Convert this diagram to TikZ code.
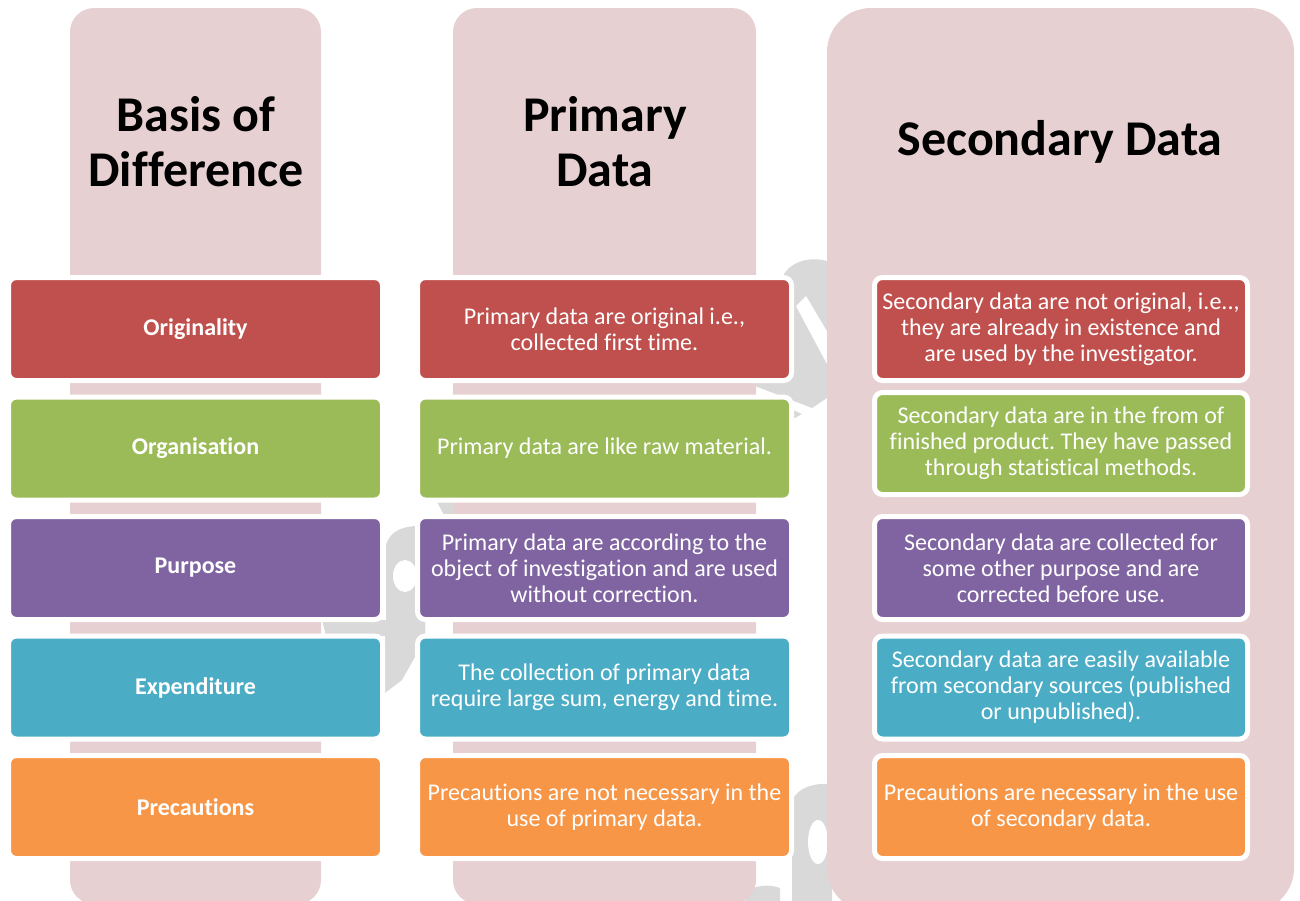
\documentclass[tikz,border=0pt]{standalone}
\usepackage{fontspec}
\setmainfont{Carlito}[Ligatures={NoCommon}]
\frenchspacing
\definecolor{bgpink}{HTML}{E7D0D1}
\definecolor{cred}{HTML}{C0504D}
\definecolor{cgreen}{HTML}{9BBB59}
\definecolor{cpurple}{HTML}{8064A2}
\definecolor{cteal}{HTML}{4BACC6}
\definecolor{corange}{HTML}{F79646}
\definecolor{wmgray}{HTML}{D9D9D9}
\tikzset{
  wm/.style={fill=wmgray, draw=none},
  wmhole/.style={fill=white, draw=none},
  cell/.style={draw=white, line width=5pt, rounded corners=8pt, inner sep=0pt,
    minimum width=374pt, minimum height=103pt, text=white, align=center,
    font=\fontsize{24}{26}\selectfont},
  lab/.style={cell, font=\fontsize{24}{26}\selectfont\bfseries},
  head/.style={align=center, text=black, font=\fontsize{50}{55}\selectfont\bfseries},
}
\begin{document}
\begin{tikzpicture}[x=1pt,y=-1pt]
\useasboundingbox (0,0) rectangle (1300,900);
% faint watermark behind the table
\fill[wm] (386,545) .. controls (390,530) and (405,525) .. (425,526) -- (425,650) -- (386,650) -- cycle;
\fill[wmhole] (405,576) ellipse [x radius=12pt, y radius=16pt];
\fill[wm] (322,620) -- (425,620) -- (425,636) -- (326,636) -- cycle;
\fill[wm] (385,636) -- (420,636) -- (420,648) -- (402,680) -- (385,693) -- cycle;
\fill[wm] (436,500) -- (460,500) -- (460,515) -- (444,515) -- cycle;
\fill[wm] (755,372) -- (783,276) .. controls (790,262) and (810,255) .. (830,262) -- (830,396) -- (812,408) -- (755,386) -- cycle;
\fill[wmhole] (796,306) -- (806,296) -- (828,333) -- (828,366) -- cycle;
\fill[wm] (793,410) -- (802,414) -- (793,419) -- cycle;
\fill[wm] (792,800) .. controls (800,786) and (815,783) .. (832,784) -- (832,905) -- (792,905) -- cycle;
\fill[wmhole] (818,842) ellipse [x radius=10pt, y radius=22pt];
\fill[wm] (745,892) .. controls (755,885) and (770,884) .. (780,888) -- (780,905) -- (745,905) -- cycle;
% column backgrounds
\fill[bgpink, rounded corners=24pt] (70,8) rectangle (321,904);
\fill[bgpink, rounded corners=24pt] (453,8) rectangle (756,904);
\fill[bgpink, rounded corners=44pt] (827,8) rectangle (1294,912);
% headers
\node[head] (h1) at (196,142) {Basis of\\Difference};
\node[head] (h2) at (605,142) {Primary\\Data};
\node[head] (h3) at (1060,142) {Secondary Data};
% column 1
\node[lab, fill=cred]    (a1) at (195.5,329)   {Originality};
\node[lab, fill=cgreen]  (a2) at (195.5,448.5) {Organisation};
\node[lab, fill=cpurple] (a3) at (195.5,568)   {Purpose};
\node[lab, fill=cteal]   (a4) at (195.5,687.5) {Expenditure};
\node[lab, fill=corange] (a5) at (195.5,807)   {Precautions};
% column 2
\node[cell, fill=cred]    (b1) at (604.5,329)   {Primary data are original i.e.,\\collected first time.};
\node[cell, fill=cgreen]  (b2) at (604.5,448.5) {Primary data are like raw material.};
\node[cell, fill=cpurple] (b3) at (604.5,568)   {Primary data are according to the\\object of investigation and are used\\without correction.};
\node[cell, fill=cteal]   (b4) at (604.5,687.5) {The collection of primary data\\require large sum, energy and time.};
\node[cell, fill=corange] (b5) at (604.5,807)   {Precautions are not necessary in the\\use of primary data.};
% column 3
\node[cell, fill=cred, minimum width=373pt]    (c1) at (1061,329)   {Secondary data are not original, i.e..,\\they are already in existence and\\are used by the investigator.};
\node[cell, fill=cgreen, minimum width=373pt, minimum height=102pt]  (c2) at (1061,443.5) {Secondary data are in the from of\\finished product. They have passed\\through statistical methods.};
\node[cell, fill=cpurple, minimum width=373pt] (c3) at (1061,568)   {Secondary data are collected for\\some other purpose and are\\corrected before use.};
\node[cell, fill=cteal, minimum width=373pt]   (c4) at (1061,687.5) {Secondary data are easily available\\from secondary sources (published\\or unpublished).};
\node[cell, fill=corange, minimum width=373pt] (c5) at (1061,807)   {Precautions are necessary in the use\\of secondary data.};
\end{tikzpicture}
\end{document}
